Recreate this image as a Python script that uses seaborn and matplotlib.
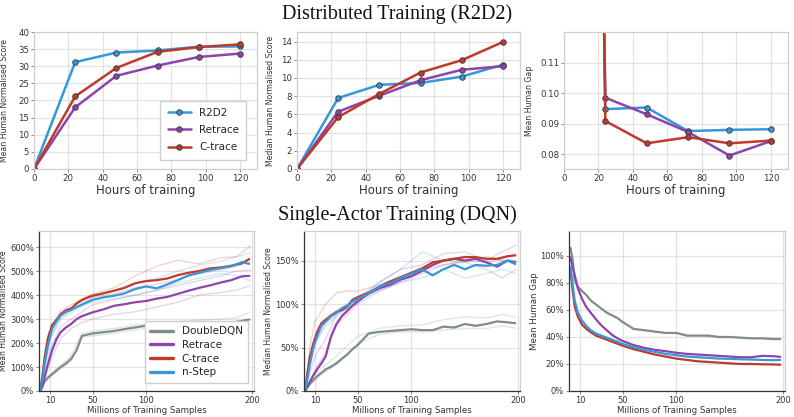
import pandas as pd
import seaborn as sns
import matplotlib.pyplot as plt
from matplotlib.lines import Line2D
from matplotlib.ticker import FuncFormatter

# ---- distributed training (R2D2), values per checkpoint ----
hours = [0, 24, 48, 72, 96, 120]
top_methods = ["R2D2", "Retrace", "C-trace"]

mean_score = {
    "R2D2": [0, 31.2, 34.0, 34.6, 35.7, 35.8],
    "Retrace": [0, 18.0, 27.2, 30.2, 32.7, 33.7],
    "C-trace": [0, 21.2, 29.5, 34.2, 35.6, 36.4],
}
median_score = {
    "R2D2": [0, 7.8, 9.25, 9.45, 10.15, 11.45],
    "Retrace": [0, 6.3, 8.05, 9.75, 10.9, 11.3],
    "C-trace": [0, 5.7, 8.25, 10.6, 11.95, 13.95],
}
mean_gap = {
    "R2D2": [1.0, 0.0948, 0.0953, 0.0876, 0.0880, 0.0882],
    "Retrace": [1.0, 0.0985, 0.0931, 0.0873, 0.0796, 0.0843],
    "C-trace": [1.0, 0.0909, 0.0836, 0.0856, 0.0836, 0.0845],
}

# ---- single-actor training (DQN), mean over seeds ----
samples = [1, 3, 5, 8, 12, 16, 20, 25, 30, 35, 40, 45, 50, 60, 70, 80, 90,
           100, 110, 120, 130, 140, 150, 160, 170, 180, 190, 197]
bottom_methods = ["DoubleDQN", "Retrace", "C-trace", "n-Step"]

dqn_mean = {
    "DoubleDQN": [2, 20, 40, 55, 70, 85, 100, 115, 135, 170, 230, 235, 240, 245,
                  250, 258, 265, 272, 275, 266, 280, 283, 282, 285, 287, 285, 292, 298],
    "Retrace": [2, 20, 60, 110, 170, 215, 245, 265, 280, 300, 312, 320, 328, 340,
                355, 362, 370, 375, 385, 392, 405, 418, 430, 440, 452, 462, 478, 480],
    "C-trace": [5, 67, 140, 220, 275, 296, 320, 337, 344, 365, 379, 389, 397, 407,
                418, 430, 449, 458, 462, 469, 483, 493, 500, 511, 515, 522, 532, 550],
    "n-Step": [4, 50, 115, 190, 260, 290, 315, 330, 338, 350, 360, 370, 380, 390,
               397, 407, 425, 436, 428, 444, 462, 482, 492, 504, 512, 520, 537, 530],
}
dqn_median = {
    "DoubleDQN": [1, 5, 8, 12, 17, 21, 25, 28, 32, 37, 42, 48, 53, 66,
                  68, 69, 70, 71, 70, 70, 74, 73, 77, 75, 77, 80, 79, 78],
    "Retrace": [1, 5, 10, 17, 25, 32, 40, 63, 77, 86, 92, 98, 103, 112,
                118, 122, 128, 132, 138, 145, 150, 152, 150, 152, 148, 143, 150, 148],
    "C-trace": [3, 22, 38, 53, 68, 78, 82, 87, 91, 93, 97, 105, 108, 113,
                120, 126, 131, 136, 141, 148, 150, 152, 154, 154, 152, 152, 155, 156],
    "n-Step": [2, 15, 30, 48, 63, 75, 80, 86, 90, 95, 98, 103, 106, 112,
               120, 124, 130, 135, 140, 133, 140, 145, 140, 145, 144, 145, 150, 146],
}
dqn_gap = {
    "DoubleDQN": [106, 98, 82, 77, 74, 71, 67, 64, 61, 58, 56, 54, 51, 46,
                  45, 44, 43, 43, 41, 41, 41, 40, 40, 39.5, 39, 39, 38.5, 38.5],
    "Retrace": [99, 92, 86, 76, 68, 62, 58, 53, 48.5, 45, 41.5, 39, 37, 34,
                32, 30.5, 29.5, 28.3, 27.5, 27, 26.5, 26, 25.5, 25, 25, 26, 25.8, 25.3],
    "C-trace": [91, 75, 63, 55, 49, 46, 43.5, 41, 39.5, 38, 36.5, 35, 33.5, 31,
                29, 27, 25.5, 24, 23, 22, 21.5, 21, 20.5, 20, 20, 19.8, 19.7, 19.5],
    "n-Step": [92, 80, 67, 58, 52, 48, 45, 42.5, 41, 39.5, 38, 36.5, 34.8, 32.5,
               30.5, 29, 27.5, 26.5, 25.5, 25, 24.5, 24, 23.8, 23.5, 23.3, 23, 22.8, 23],
}

# ---- individual seeds (faint lines), coarser sampling ----
seed_samples = [1, 5, 10, 20, 30, 40, 50, 70, 90, 110, 130, 150, 170, 185, 198]
dqn_mean_seeds = {
    "DoubleDQN": [[0, 45, 70, 105, 150, 240, 250, 260, 275, 280, 290, 295, 300, 305, 330],
                  [0, 35, 60, 90, 125, 225, 230, 240, 255, 265, 270, 270, 275, 280, 275]],
    "Retrace": [[0, 60, 170, 270, 300, 330, 360, 380, 400, 420, 440, 460, 480, 500, 505],
                [0, 40, 120, 220, 260, 285, 300, 320, 330, 350, 370, 400, 410, 420, 440]],
    "C-trace": [[0, 130, 250, 335, 360, 385, 405, 430, 480, 520, 545, 530, 555, 560, 605],
                [0, 100, 220, 305, 335, 365, 390, 405, 430, 445, 465, 490, 505, 520, 540]],
    "n-Step": [[0, 110, 230, 325, 350, 375, 400, 420, 450, 470, 500, 525, 540, 560, 575],
               [0, 90, 210, 300, 325, 355, 370, 385, 400, 420, 450, 470, 490, 480, 460]],
}
dqn_median_seeds = {
    "DoubleDQN": [[0, 10, 20, 30, 40, 52, 63, 72, 75, 76, 82, 85, 84, 88, 85],
                  [0, 6, 12, 22, 30, 42, 55, 65, 68, 68, 70, 72, 72, 75, 72]],
    "Retrace": [[0, 20, 40, 60, 88, 98, 105, 125, 140, 145, 158, 160, 150, 160, 168],
                [0, 10, 25, 45, 75, 88, 100, 115, 125, 135, 145, 148, 140, 130, 140]],
    "C-trace": [[0, 50, 80, 100, 113, 115, 115, 122, 130, 140, 150, 155, 153, 150, 150],
                [0, 30, 55, 78, 88, 95, 105, 118, 130, 140, 145, 150, 148, 152, 158]],
    "n-Step": [[0, 35, 65, 82, 92, 100, 108, 125, 140, 160, 150, 148, 155, 150, 150],
               [0, 25, 55, 75, 85, 95, 105, 115, 125, 130, 140, 130, 135, 140, 135]],
}

colors = {"R2D2": "#3498db", "Retrace": "#8e44ad", "C-trace": "#c0392b",
          "DoubleDQN": "#7f8c8d", "n-Step": "#3498db"}


def long_form(curves, xs, xname):
    rows = []
    for m, vals in curves.items():
        for x, v in zip(xs, vals):
            rows.append((m, x, v))
    return pd.DataFrame(rows, columns=["method", xname, "value"])


def seed_form(curves, xs):
    rows = []
    for m, runs in curves.items():
        for i, vals in enumerate(runs):
            for x, v in zip(xs, vals):
                rows.append((m, i, x, v))
    return pd.DataFrame(rows, columns=["method", "seed", "samples", "value"])


sns.set_style("whitegrid", {"grid.color": "#e2e2e2", "axes.edgecolor": "#cfcfcf",
                            "xtick.bottom": True, "ytick.left": True})
plt.rcParams["font.family"] = ["DejaVu Sans"]
plt.rcParams["axes.linewidth"] = 0.9
plt.rcParams["grid.linewidth"] = 0.9

fig = plt.figure(figsize=(7.94, 4.17), dpi=100)
W, H = 794, 417


def add_ax(left, right, top, bottom):
    return fig.add_axes([left / W, 1 - bottom / H, (right - left) / W, (bottom - top) / H])


def style_ax(ax, size=6.2):
    ax.tick_params(labelsize=size, length=2, width=0.7, color="#888888",
                   labelcolor="#333333", pad=1.5)


top_axes = [add_ax(34, 257, 32, 169), add_ax(297, 520, 32, 169), add_ax(564, 788, 32, 169)]
top_data = [mean_score, median_score, mean_gap]
top_labels = ["Mean Human Normalised Score", "Median Human Normalised Score", "Mean Human Gap"]
top_ylims = [(0, 40), (0, 15.05), (0.0752, 0.12)]
top_yticks = [range(0, 41, 5), range(0, 15, 2), [0.08, 0.09, 0.10, 0.11]]
top_label_x = [-0.113, -0.099, -0.136]

for ax, data, lab, ylim, yt, lx in zip(top_axes, top_data, top_labels, top_ylims,
                                       top_yticks, top_label_x):
    df = long_form(data, hours, "hours")
    sns.lineplot(data=df, x="hours", y="value", hue="method", hue_order=top_methods,
                 palette=colors, marker="o", markersize=4, markeredgecolor="#3a3a3a",
                 markeredgewidth=0.6, linewidth=1.8, ax=ax, legend=False)
    ax.set_xlim(0, 130)
    ax.set_ylim(*ylim)
    ax.set_xticks(range(0, 121, 20))
    ax.set_yticks(list(yt))
    ax.set_xlabel("Hours of training", fontsize=8.5, color="#333333", labelpad=1)
    ax.set_ylabel(lab, fontsize=5.6, color="#333333")
    ax.yaxis.set_label_coords(lx, 0.5)
    style_ax(ax)
top_axes[2].yaxis.set_major_formatter(FuncFormatter(lambda v, p: f"{v:.2f}"))

handles = [Line2D([], [], color=colors[m], lw=1.8, marker="o", markersize=4,
                  markeredgecolor="#3a3a3a", markeredgewidth=0.6) for m in top_methods]
top_axes[0].legend(handles, top_methods, loc="lower right", bbox_to_anchor=(0.975, 0.03),
                   fontsize=7.5, frameon=True, fancybox=False, edgecolor="#cfcfcf",
                   framealpha=1, handlelength=2.2, labelspacing=0.7, borderpad=0.7)

bottom_axes = [add_ax(39, 254, 231, 391), add_ax(304, 520, 231, 391), add_ax(569, 785, 231, 391)]
bottom_data = [dqn_mean, dqn_median, dqn_gap]
bottom_seeds = [dqn_mean_seeds, dqn_median_seeds, None]
bottom_labels = ["Mean Human Normalised Score", "Median Human Normalised Score", "Mean Human Gap"]
bottom_ylims = [(0, 667), (0, 184), (0, 118.5)]
bottom_yticks = [range(0, 601, 100), range(0, 151, 50), range(0, 101, 20)]
bottom_label_x = [-0.144, -0.144, -0.141]

for ax, data, seeds, lab, ylim, yt, lx in zip(bottom_axes, bottom_data, bottom_seeds,
                                              bottom_labels, bottom_ylims, bottom_yticks,
                                              bottom_label_x):
    if seeds is not None:
        sdf = seed_form(seeds, seed_samples)
        sns.lineplot(data=sdf, x="samples", y="value", hue="method", hue_order=bottom_methods,
                     units="seed", estimator=None, palette=colors, alpha=0.22,
                     linewidth=1.0, ax=ax, legend=False)
    df = long_form(data, samples, "samples")
    sns.lineplot(data=df, x="samples", y="value", hue="method", hue_order=bottom_methods,
                 palette=colors, linewidth=1.6, ax=ax, legend=False)
    ax.set_xlim(-0.3, 201.5)
    ax.set_ylim(*ylim)
    ax.set_xticks([10, 50, 100, 200])
    ax.set_yticks(list(yt))
    ax.yaxis.set_major_formatter(FuncFormatter(lambda v, p: f"{v:.0f}%"))
    ax.set_xlabel("Millions of Training Samples", fontsize=6.2, color="#333333", labelpad=1)
    ax.set_ylabel(lab, fontsize=6.2 if ax is bottom_axes[2] else 5.5, color="#333333")
    ax.yaxis.set_label_coords(lx, 0.5)
    ax.spines["left"].set_color("#333333")
    ax.spines["bottom"].set_color("#333333")
    style_ax(ax, 6.0)

handles = [Line2D([], [], color=colors[m], lw=2.4) for m in bottom_methods]
bottom_axes[0].legend(handles, bottom_methods, loc="lower right", bbox_to_anchor=(0.995, 0.02),
                      fontsize=7.5, frameon=True, fancybox=False, edgecolor="#cfcfcf",
                      framealpha=1, handlelength=2.2, labelspacing=0.35, borderpad=0.5)

fig.text(0.5, 1 - 14 / H, "Distributed Training (R2D2)", ha="center", va="center",
         family=["Liberation Serif", "DejaVu Serif"], fontsize=14.5, color="#111111")
fig.text(0.5, 1 - 215 / H, "Single-Actor Training (DQN)", ha="center", va="center",
         family=["Liberation Serif", "DejaVu Serif"], fontsize=14.5, color="#111111")

fig.savefig("out.png", dpi=100, facecolor="white")
